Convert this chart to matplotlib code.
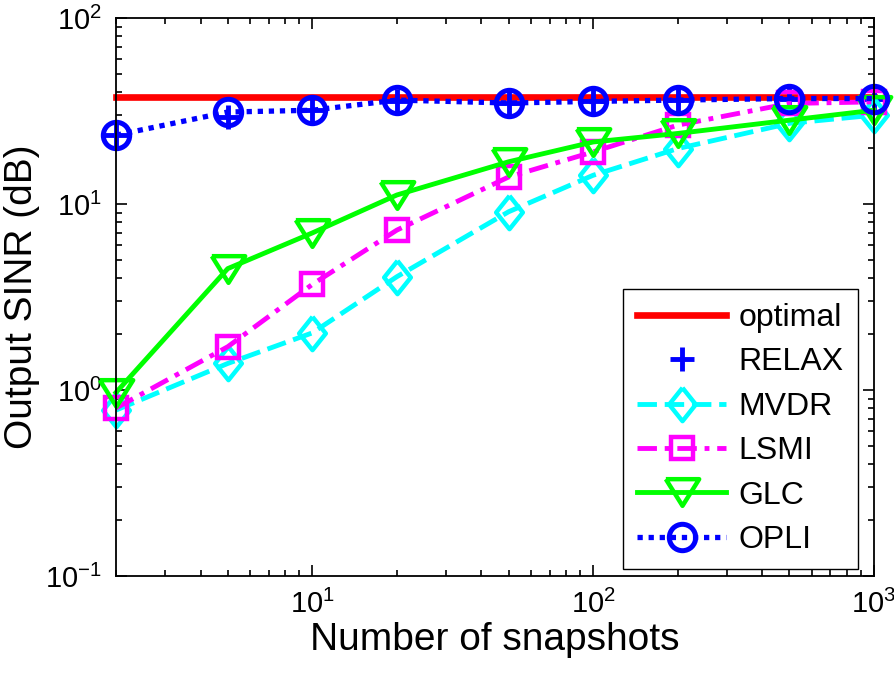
import numpy as np
import matplotlib
matplotlib.use('Agg')
import matplotlib.pyplot as plt
from matplotlib.ticker import LogLocator, NullFormatter

plt.rcParams['font.family'] = ['Liberation Sans', 'DejaVu Sans']

# number of snapshots
snapshots = [2, 5, 10, 20, 50, 100, 200, 500, 1000]

# output SINR for each method
optimal = [37.5] * len(snapshots)
relax = [23.5, 29.5, 32.0, 36.0, 35.0, 35.7, 36.3, 37.0, 37.0]
mvdr = [0.78, 1.39, 2.03, 4.07, 9.1, 14.3, 19.9, 27.2, 30.1]
lsmi = [0.80, 1.71, 3.70, 7.25, 14.0, 19.1, 26.6, 34.8, 35.5]
glc = [0.97, 4.5, 7.0, 11.2, 16.9, 21.6, 24.0, 28.3, 32.0]
opli = [23.5, 31.3, 32.0, 36.3, 35.0, 35.7, 36.3, 37.0, 37.0]

# matlab-like wide diamond and down triangle
diamond = [(0, 1), (0.8, 0), (0, -1), (-0.8, 0), (0, 1)]
tri_down = [(-1, 0.8), (1, 0.8), (0, -0.8), (-1, 0.8)]

fig = plt.figure(figsize=(8.95, 6.76), dpi=100)
ax = fig.add_axes([0.1296, 0.148, 0.8469, 0.825])

lw = 3.5
ax.plot(snapshots, optimal, color='red', lw=4.8, label='optimal', clip_on=False)
ax.plot(snapshots, relax, color='blue', ls='none', marker='+', ms=17, mew=3.5,
        label='RELAX', clip_on=False)
ax.plot(snapshots, mvdr, color='cyan', ls=(0, (4, 1.6)), lw=lw, marker=diamond, ms=24,
        mew=3.2, mfc='none', label='MVDR', clip_on=False)
ax.plot(snapshots, lsmi, color='magenta', ls=(0, (4, 1.6, 1, 1.6)), lw=lw, marker='s',
        ms=16, mew=3.2, mfc='none', label='LSMI', clip_on=False)
ax.plot(snapshots, glc, color='lime', ls='-', lw=lw, marker=tri_down, ms=24, mew=3.2,
        mfc='none', label='GLC', clip_on=False)
ax.plot(snapshots, opli, color='blue', ls=(0, (1, 1.1)), lw=3.8, marker='o', ms=19, mew=3.6,
        mfc='none', label='OPLI', clip_on=False)

ax.set_xscale('log')
ax.set_yscale('log')
ax.set_xlim(2, 1000)
ax.set_ylim(0.1, 100)
ax.xaxis.set_major_locator(LogLocator(base=10, numticks=10))
ax.xaxis.set_minor_locator(LogLocator(base=10, subs=np.arange(2, 10), numticks=20))
ax.xaxis.set_minor_formatter(NullFormatter())
ax.yaxis.set_minor_formatter(NullFormatter())

ax.tick_params(which='both', direction='in', top=True, right=True, width=1.2)
ax.tick_params(which='major', length=8, labelsize=21, pad=10)
ax.tick_params(which='minor', length=4.5)
for s in ax.spines.values():
    s.set_linewidth(1.3)

ax.set_xlabel('Number of snapshots', fontsize=28, labelpad=2)
ax.set_ylabel('Output SINR (dB)', fontsize=28)
ax.yaxis.set_label_coords(-0.1, 0.5)

leg = ax.legend(loc='lower right', bbox_to_anchor=(0.979, 0.012), borderaxespad=0,
                fontsize=23, numpoints=1, handlelength=2.8, handletextpad=0.38,
                labelspacing=0.45, fancybox=False, edgecolor='black',
                framealpha=1, borderpad=0.45)
leg.get_frame().set_linewidth(1.0)

fig.savefig('out.png', dpi=100)
